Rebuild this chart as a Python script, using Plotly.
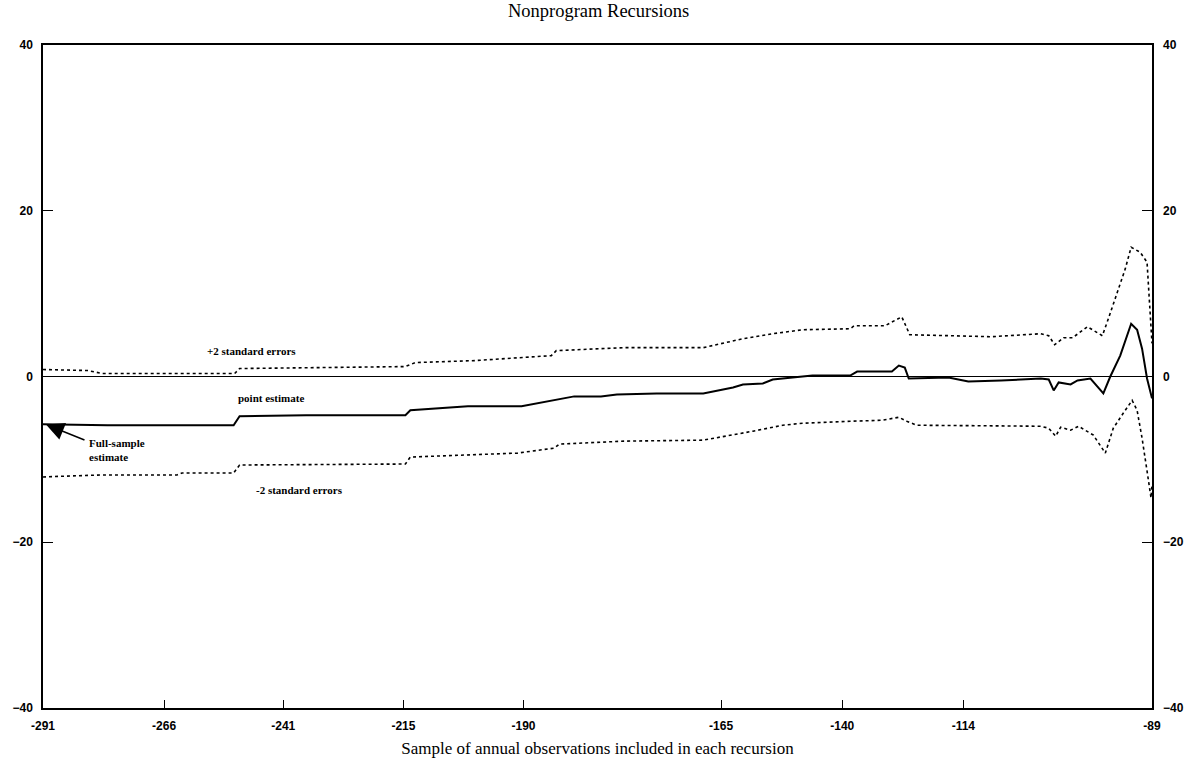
import plotly.graph_objects as go

# Recursion position along the horizontal axis (0 = first recursion, 1117 = last)
upper_pos = [0, 45, 60, 193, 198, 265, 365, 375, 435, 512, 517, 585, 665, 705, 735, 765, 813, 817, 848, 865, 873,
             955, 1005, 1013, 1019, 1028, 1037, 1052, 1067, 1073, 1082, 1090, 1096, 1105, 1112, 1115, 1117]
upper_val = [0.84, 0.72, 0.36, 0.36, 0.96, 1.08, 1.2, 1.68, 1.92, 2.52, 3.12, 3.48, 3.48, 4.56, 5.16, 5.64, 5.76, 6.12, 6.12, 7.2, 5.04,
             4.8, 5.16, 4.92, 3.84, 4.68, 4.68, 6.0, 4.92, 6.96, 10.2, 12.96, 15.6, 15.0, 13.8, 8.5, 4.0]

point_pos = [0, 65, 192, 198, 265, 365, 370, 428, 482, 515, 535, 562, 578, 618, 665, 695, 705, 725, 735, 755, 775,
             813, 820, 855, 862, 868, 872, 912, 932, 965, 995, 1005, 1013, 1018, 1023, 1035, 1042, 1055, 1068, 1075,
             1085, 1096, 1102, 1107, 1112, 1117]
point_val = [-5.76, -5.88, -5.88, -4.8, -4.68, -4.68, -4.08, -3.6, -3.6, -2.88, -2.4, -2.4, -2.16, -2.04, -2.04, -1.32, -0.96, -0.84, -0.36, -0.12, 0.12,
             0.12, 0.6, 0.6, 1.32, 1.08, -0.24, -0.12, -0.6, -0.48, -0.36, -0.24, -0.36, -1.68, -0.72, -0.96, -0.48, -0.24, -2.04, 0.0,
             2.52, 6.36, 5.64, 3.36, -0.24, -2.64]

lower_pos = [0, 58, 135, 140, 192, 198, 365, 370, 478, 515, 520, 585, 665, 695, 715, 745, 765, 813, 845, 862, 870, 880,
             965, 1005, 1013, 1020, 1025, 1035, 1043, 1058, 1070, 1078, 1088, 1097, 1102, 1107, 1112, 1116, 1117]
lower_val = [-12.12, -11.88, -11.88, -11.64, -11.64, -10.68, -10.56, -9.72, -9.24, -8.64, -8.16, -7.8, -7.68, -7.08, -6.6, -5.88, -5.64, -5.4, -5.28, -4.92, -5.4, -5.88,
             -6.0, -6.0, -6.24, -7.2, -6.12, -6.48, -6.0, -7.08, -9.24, -6.24, -4.44, -2.88, -4.08, -7.44, -11.4, -14.64, -13.1]

tick_pos = [0, 122, 242, 363, 484, 683, 805, 927, 1117]
tick_text = ["-291", "-266", "-241", "-215", "-190", "-165", "-140", "-114", "-89"]
y_ticks = [-40, -20, 0, 20, 40]

fig = go.Figure()
dot = "3px,3px"
fig.add_trace(go.Scatter(x=upper_pos, y=upper_val, mode="lines",
                         line=dict(color="black", width=1.6, dash=dot), showlegend=False))
fig.add_trace(go.Scatter(x=point_pos, y=point_val, mode="lines",
                         line=dict(color="black", width=2), showlegend=False))
fig.add_trace(go.Scatter(x=lower_pos, y=lower_val, mode="lines",
                         line=dict(color="black", width=1.6, dash=dot), showlegend=False))
# invisible trace for right axis
fig.add_trace(go.Scatter(x=[0], y=[0], yaxis="y2", mode="markers",
                         marker=dict(opacity=0), showlegend=False, hoverinfo="skip"))

tickfont = dict(family="Liberation Sans Narrow, Liberation Sans", size=12, color="black", weight="bold")
ann_font = dict(family="Liberation Serif", size=11, color="black", weight="bold")

fig.update_layout(
    width=1202, height=767,
    margin=dict(l=36, r=50, t=45, b=56),
    paper_bgcolor="white", plot_bgcolor="white",
    title=dict(text="Nonprogram Recursions", x=0.498, xanchor="center", y=0.995, yanchor="top",
               font=dict(family="Liberation Serif", size=18.5, color="black")),
    xaxis=dict(range=[0, 1117], tickvals=tick_pos, ticktext=tick_text, ticks="inside", ticklen=8,
               tickwidth=1.2, tickcolor="black", showline=True, linecolor="black", linewidth=1.5,
               mirror=True, showgrid=False, zeroline=False, tickfont=tickfont, ticklabelstandoff=6,
               title=dict(text="Sample of annual observations included in each recursion",
                          font=dict(family="Liberation Serif", size=17, color="black"), standoff=10)),
    yaxis=dict(range=[-40, 40], tickvals=y_ticks, ticks="inside", ticklen=10, tickwidth=1.2,
               tickcolor="black", showline=True, linecolor="black", linewidth=1.5, mirror=True,
               showgrid=False, zeroline=True, zerolinecolor="black", zerolinewidth=1,
               tickfont=tickfont, ticklabelstandoff=6),
    yaxis2=dict(range=[-40, 40], tickvals=y_ticks, overlaying="y", side="right", ticks="inside",
                ticklen=10, tickwidth=1.2, tickcolor="black", showline=False, showgrid=False,
                zeroline=False, tickfont=tickfont, ticklabelstandoff=10),
    annotations=[
        dict(x=246 - 36, y=3.12, text="+2 standard errors", showarrow=False, font=ann_font),
        dict(x=266 - 36, y=-2.64, text="point estimate", showarrow=False, font=ann_font),
        dict(x=294 - 36, y=-13.7, text="-2 standard errors", showarrow=False, font=ann_font),
        dict(x=80 - 36, y=-8.9, text="Full-sample<br>estimate", showarrow=False, font=ann_font,
             xanchor="left", align="left"),
        dict(x=3, y=-5.8, text="", showarrow=True, ax=40, ay=16, arrowhead=2, arrowsize=2.4,
             arrowwidth=1.5, arrowcolor="black"),
    ],
)

fig.write_html("out.html")
